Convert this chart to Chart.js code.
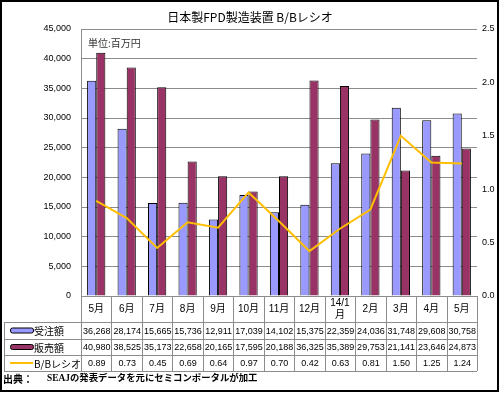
<!DOCTYPE html>
<html>
<head>
<meta charset="utf-8">
<title>日本製FPD製造装置 B/Bレシオ</title>
<script src="https://cdn.jsdelivr.net/npm/chart.js@4/dist/chart.umd.min.js"></script>
<style>
  html, body { margin: 0; padding: 0; background: #fff; }
  #wrap { width: 500px; height: 393px; position: relative; }
</style>
</head>
<body>
<div id="wrap"><canvas id="bb" width="500" height="393"></canvas></div>
<script>
/* 日本製FPD製造装置 B/Bレシオ */
(function () {
  "use strict";

  /* ── Data ─────────────────────────────────────────────────── */
  var months = ["5月", "6月", "7月", "8月", "9月", "10月", "11月", "12月", ["14/1", "月"], "2月", "3月", "4月", "5月"];
  var orders = [36268, 28174, 15665, 15736, 12911, 17039, 14102, 15375, 22359, 24036, 31748, 29608, 30758];
  var sales  = [40980, 38525, 35173, 22658, 20165, 17595, 20188, 36325, 35389, 29753, 21141, 23646, 24873];
  var bbRatio = [0.89, 0.73, 0.45, 0.69, 0.64, 0.97, 0.70, 0.42, 0.63, 0.81, 1.50, 1.25, 1.24];
  var seriesNames = ["受注額", "販売額", "B/Bレシオ"];

  var FONT = "'Liberation Sans', 'Noto Sans CJK JP', sans-serif";
  var JP = "'Noto Sans CJK JP', 'Liberation Sans', sans-serif";
  var COL_ORD = "#9999FF", COL_SAL = "#993366", COL_BB = "#FFBF00";
  var GRID = "#8c8c8c";

  function fmt(n) { return n.toLocaleString("en-US"); }

  /* ── Title, frame and data table ──────────────────────────── */
  var tablePlugin = {
    id: "bbTable",
    beforeDraw: function (chart) {
      var c = chart.ctx;
      c.save();
      c.fillStyle = "#fff";
      c.fillRect(0, 0, chart.width, chart.height);
      c.restore();
    },
    afterDraw: function (chart) {
      var c = chart.ctx, x = chart.scales.x, area = chart.chartArea;
      var colW = (area.right - area.left) / months.length;
      var top = area.bottom, hdrB = top + 26;
      var rows = [hdrB, hdrB + 17, hdrB + 33, hdrB + 49];
      var left = 4;
      c.save();

      // title + unit
      c.fillStyle = "#000";
      c.textAlign = "center";
      c.textBaseline = "middle";
      c.font = "12px " + JP;
      c.fillText("日本製FPD製造装置 B/Bレシオ", 250, 17);
      c.textAlign = "left";
      c.font = "10px " + JP;
      c.fillStyle = "#333";
      c.fillText("単位:百万円", 88, 43);

      // grid lines of the table
      c.strokeStyle = GRID;
      c.lineWidth = 1;
      c.beginPath();
      c.moveTo(area.left, top + 0.5); c.lineTo(area.right, top + 0.5);
      rows.forEach(function (y) { c.moveTo(left, y + 0.5); c.lineTo(area.right, y + 0.5); });
      for (var i = 0; i <= months.length; i++) {
        var bx = Math.round(area.left + i * colW) + 0.5;
        c.moveTo(bx, top); c.lineTo(bx, rows[3]);
      }
      c.moveTo(left + 0.5, rows[0]); c.lineTo(left + 0.5, rows[3]);
      c.stroke();

      // category labels
      c.fillStyle = "#000";
      c.textAlign = "center";
      c.font = "10px " + FONT;
      months.forEach(function (m, i) {
        var cx = x.getPixelForValue(i);
        if (Array.isArray(m)) {
          c.fillText(m[0], cx, top + 7);
          c.fillText(m[1], cx, top + 19);
        } else {
          c.fillText(m, cx, top + 13);
        }
      });

      // values
      c.font = "9px " + FONT;
      for (var j = 0; j < months.length; j++) {
        var px = x.getPixelForValue(j) + 0.5;
        c.fillText(fmt(orders[j]), px, (rows[0] + rows[1]) / 2 + 1);
        c.fillText(fmt(sales[j]), px, (rows[1] + rows[2]) / 2 + 1);
        c.fillText(bbRatio[j].toFixed(2), px, (rows[2] + rows[3]) / 2 + 1);
      }

      // legend keys
      [COL_ORD, COL_SAL].forEach(function (col, k) {
        var ky = (rows[k] + rows[k + 1]) / 2 - 2.5;
        c.fillStyle = col;
        c.strokeStyle = "#000";
        c.beginPath();
        c.roundRect(10.5, ky, 23, 5, 2);
        c.fill();
        c.stroke();
      });
      c.strokeStyle = COL_BB;
      c.lineWidth = 2;
      c.beginPath();
      c.moveTo(10, (rows[2] + rows[3]) / 2);
      c.lineTo(33, (rows[2] + rows[3]) / 2);
      c.stroke();

      c.fillStyle = "#000";
      c.textAlign = "left";
      c.font = "10px " + JP;
      seriesNames.forEach(function (nm, k) {
        c.fillText(nm, 34, (rows[k] + rows[k + 1]) / 2 + 1);
      });

      // source note
      c.font = "bold 10px " + JP;
      c.fillText("出典：", 3, rows[3] + 8);
      c.font = "bold 9.4px 'Liberation Serif', 'Noto Sans CJK JP', serif";
      c.fillText("SEAJの発表データを元にセミコンポータルが加工", 47, rows[3] + 8);

      // outer frame
      c.strokeStyle = "#000";
      c.lineWidth = 2;
      c.strokeRect(1, 1, 497, 390);
      c.restore();
    }
  };

  /* ── Chart ────────────────────────────────────────────────── */
  new Chart(document.getElementById("bb"), {
    type: "bar",
    data: {
      labels: months,
      datasets: [
        {
          type: "line",
          label: seriesNames[2],
          data: bbRatio,
          yAxisID: "y1",
          borderColor: COL_BB,
          borderWidth: 2,
          pointRadius: 0,
          tension: 0,
          order: 0
        },
        {
          label: seriesNames[0],
          data: orders,
          yAxisID: "y",
          backgroundColor: COL_ORD,
          borderColor: "#000",
          borderWidth: 1,
          categoryPercentage: 0.6,
          barPercentage: 1.0,
          order: 1
        },
        {
          label: seriesNames[1],
          data: sales,
          yAxisID: "y",
          backgroundColor: COL_SAL,
          borderColor: "#000",
          borderWidth: 1,
          categoryPercentage: 0.6,
          barPercentage: 1.0,
          order: 1
        }
      ]
    },
    options: {
      responsive: false,
      animation: false,
      layout: { padding: { top: 29, bottom: 97, left: 0, right: 0 } },
      plugins: {
        legend: { display: false },
        title: { display: false },
        tooltip: { enabled: false }
      },
      scales: {
        x: { display: false },
        y: {
          position: "left",
          min: 0,
          max: 45000,
          afterFit: function (s) { s.width = 81; },
          grid: { color: GRID, drawTicks: false },
          border: { display: true, color: GRID },
          ticks: {
            stepSize: 5000,
            padding: 10,
            color: "#000",
            font: { family: FONT, size: 9 },
            callback: function (v) { return fmt(v); }
          }
        },
        y1: {
          position: "right",
          min: 0,
          max: 2.5,
          afterFit: function (s) { s.width = 23; },
          grid: { display: false, drawTicks: false },
          border: { display: false },
          ticks: {
            stepSize: 0.5,
            padding: 5,
            color: "#000",
            font: { family: FONT, size: 9 },
            callback: function (v) { return v.toFixed(1); }
          }
        }
      }
    },
    plugins: [tablePlugin]
  });
})();
</script>
</body>
</html>
